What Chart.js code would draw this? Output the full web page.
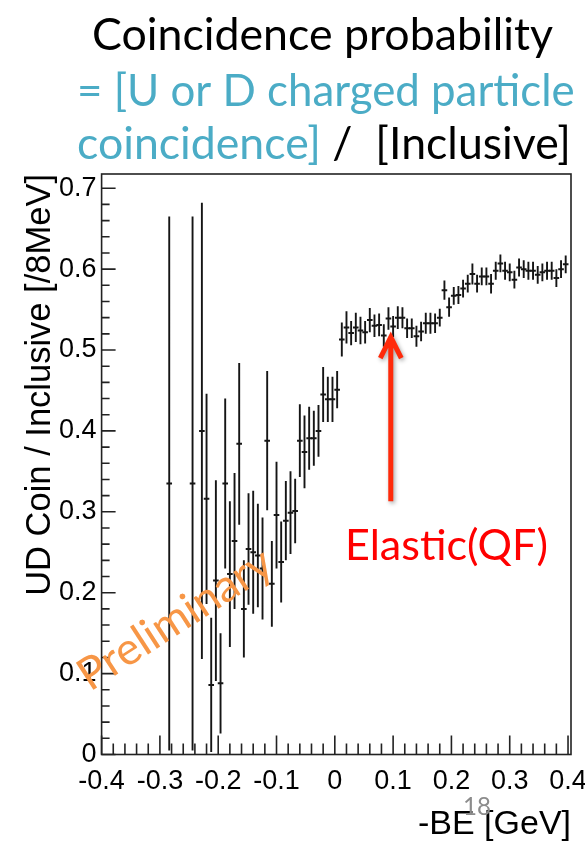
<!DOCTYPE html>
<html>
<head>
<meta charset="utf-8">
<script src="https://cdn.jsdelivr.net/npm/chart.js@4.4.1/dist/chart.umd.min.js"></script>
<style>
  html, body { margin: 0; padding: 0; background: #fff; }
  #chart { display: block; }
</style>
</head>
<body>
<canvas id="chart" width="585" height="842"></canvas>
<script>
// -BE bin centres in GeV (8 MeV bins), only the filled bins
const beGeV = [
  -0.284, -0.244, -0.228, -0.220, -0.212, -0.204, -0.196, -0.188, -0.180, -0.172,
  -0.164, -0.156, -0.148, -0.140, -0.132, -0.124, -0.116, -0.108, -0.100, -0.092,
  -0.084, -0.076, -0.068, -0.060, -0.052, -0.044, -0.036, -0.028, -0.020, -0.012,
  -0.004, 0.004, 0.012, 0.020, 0.028, 0.036, 0.044, 0.052, 0.060, 0.068,
  0.076, 0.084, 0.092, 0.100, 0.108, 0.116, 0.124, 0.132, 0.140, 0.148,
  0.156, 0.164, 0.172, 0.180, 0.188, 0.196, 0.204, 0.212, 0.220, 0.228,
  0.236, 0.244, 0.252, 0.260, 0.268, 0.276, 0.284, 0.292, 0.300, 0.308,
  0.316, 0.324, 0.332, 0.340, 0.348, 0.356, 0.364, 0.372, 0.380, 0.388,
  0.396
];
// UD coincidence / inclusive ratio per bin
const ratio = [
  0.335, 0.335, 0.400, 0.316, 0.086, 0.215, 0.088, 0.335, 0.223, 0.264,
  0.384, 0.180, 0.254, 0.250, 0.246, 0.230, 0.388, 0.211, 0.296, 0.238,
  0.289, 0.299, 0.301, 0.388, 0.374, 0.391, 0.391, 0.400, 0.445, 0.439,
  0.439, 0.451, 0.513, 0.528, 0.521, 0.528, 0.524, 0.522, 0.537, 0.530,
  0.531, 0.518, 0.539, 0.529, 0.540, 0.540, 0.527, 0.527, 0.517, 0.523,
  0.533, 0.533, 0.533, 0.540, 0.574, 0.553, 0.567, 0.568, 0.576, 0.582,
  0.594, 0.582, 0.591, 0.591, 0.582, 0.598, 0.607, 0.598, 0.596, 0.587,
  0.602, 0.600, 0.598, 0.598, 0.593, 0.596, 0.598, 0.598, 0.589, 0.600,
  0.606
];
// statistical error per bin
const ratioErr = [
  0.330, 0.330, 0.282, 0.130, 0.083, 0.124, 0.062, 0.105, 0.090, 0.084,
  0.100, 0.060, 0.069, 0.076, 0.064, 0.063, 0.086, 0.053, 0.066, 0.050,
  0.049, 0.051, 0.040, 0.045, 0.045, 0.039, 0.034, 0.032, 0.034, 0.028,
  0.028, 0.023, 0.021, 0.020, 0.015, 0.018, 0.017, 0.014, 0.015, 0.014,
  0.014, 0.014, 0.014, 0.013, 0.014, 0.013, 0.012, 0.012, 0.013, 0.012,
  0.013, 0.013, 0.012, 0.011, 0.012, 0.012, 0.011, 0.011, 0.011, 0.011,
  0.013, 0.011, 0.011, 0.011, 0.012, 0.011, 0.011, 0.011, 0.011, 0.011,
  0.011, 0.011, 0.011, 0.011, 0.011, 0.011, 0.011, 0.011, 0.011, 0.011,
  0.011
];
const xTicks = [-0.4, -0.3, -0.2, -0.1, 0, 0.1, 0.2, 0.3, 0.4];
const yTicks = [0, 0.1, 0.2, 0.3, 0.4, 0.5, 0.6, 0.7];

const fmt = v => (Math.abs(v) < 1e-9 ? '0' : v.toFixed(1));

// shrink/grow a font so the text spans the given width
function fitSize(ctx, text, family, width) {
  ctx.font = '100px ' + family;
  return 100 * width / ctx.measureText(text).width;
}

// ROOT-style frame, inward ticks and vertical error bars
const histoFrame = {
  id: 'histoFrame',
  beforeDatasetsDraw(chart) {
    const { ctx, chartArea: a, scales: { x, y } } = chart;
    ctx.save();
    ctx.strokeStyle = '#222';
    ctx.lineWidth = 1.6;
    ctx.strokeRect(a.left, a.top, a.right - a.left, a.bottom - a.top);

    ctx.beginPath();
    for (let k = 0; k <= 40; k++) {
      const px = x.getPixelForValue(-0.4 + k * 0.02);
      ctx.moveTo(px, a.bottom);
      ctx.lineTo(px, a.bottom - (k % 5 === 0 ? 19 : 11));
    }
    for (let k = 0; k <= 35; k++) {
      const py = y.getPixelForValue(k * 0.02);
      ctx.moveTo(a.left, py);
      ctx.lineTo(a.left + (k % 5 === 0 ? 14 : 8), py);
    }
    ctx.stroke();

    ctx.strokeStyle = '#151515';
    ctx.lineWidth = 1.9;
    ctx.beginPath();
    beGeV.forEach((b, i) => {
      const px = x.getPixelForValue(b);
      ctx.moveTo(px, y.getPixelForValue(ratio[i] + ratioErr[i]));
      ctx.lineTo(px, y.getPixelForValue(Math.max(0, ratio[i] - ratioErr[i])));
    });
    ctx.stroke();
    ctx.restore();
  },
  afterDraw(chart) {
    const { ctx, scales: { x, y } } = chart;
    const sans = 'Lato, "Open Sans", sans-serif';
    const teal = '#4BACC6';
    ctx.save();
    ctx.textBaseline = 'alphabetic';

    // heading
    let s = fitSize(ctx, 'Coincidence probability', sans, 461);
    ctx.font = s + 'px ' + sans;
    ctx.fillStyle = '#000';
    ctx.textAlign = 'center';
    ctx.fillText('Coincidence probability', 322.5, 50);

    ctx.textAlign = 'left';
    s = fitSize(ctx, '= [U or D charged particle', sans, 498);
    ctx.font = s + 'px ' + sans;
    ctx.fillStyle = teal;
    ctx.fillText('= [U or D charged particle', 77, 106);

    const parts = [['coincidence]', teal], [' /  ', '#000'], ['[Inclusive]', '#000']];
    s = fitSize(ctx, parts.map(p => p[0]).join(''), sans, 494);
    ctx.font = s + 'px ' + sans;
    let cx = 77;
    parts.forEach(([t, c]) => {
      ctx.fillStyle = c;
      ctx.fillText(t, cx, 159);
      cx += ctx.measureText(t).width;
    });

    // arrow pointing at the quasi-free peak
    const ax = x.getPixelForValue(0.096);
    const yTip = y.getPixelForValue(0.516);
    const yTail = y.getPixelForValue(0.313);
    ctx.save();
    ctx.shadowColor = 'rgba(0,0,0,0.35)';
    ctx.shadowBlur = 4;
    ctx.shadowOffsetX = 1.5;
    ctx.shadowOffsetY = 2;
    ctx.strokeStyle = '#FF2A0A';
    ctx.lineWidth = 5;
    ctx.lineJoin = 'miter';
    ctx.beginPath();
    ctx.moveTo(ax, yTail);
    ctx.lineTo(ax, yTip + 2);
    ctx.moveTo(ax - 10.5, yTip + 21);
    ctx.lineTo(ax, yTip);
    ctx.lineTo(ax + 10.5, yTip + 21);
    ctx.stroke();
    ctx.restore();

    s = fitSize(ctx, 'Elastic(QF)', sans, 203);
    ctx.font = s + 'px ' + sans;
    ctx.fillStyle = '#FF0000';
    ctx.fillText('Elastic(QF)', 345, 560);

    s = fitSize(ctx, '18', sans, 28);
    ctx.font = s + 'px ' + sans;
    ctx.fillStyle = '#8c8c8c';
    ctx.fillText('18', 463, 815);

    // watermark
    ctx.save();
    ctx.translate(90, 692);
    ctx.rotate(-33 * Math.PI / 180);
    s = fitSize(ctx, 'Preliminary', sans, 222);
    ctx.font = s + 'px ' + sans;
    ctx.fillStyle = '#F79646';
    ctx.fillText('Preliminary', 0, 0);
    ctx.restore();

    ctx.restore();
  }
};

const ctx = document.getElementById('chart').getContext('2d');
const axisFamily = '"Liberation Sans", Arial, sans-serif';
const tickFont = { family: axisFamily, size: 27 };

new Chart(ctx, {
  type: 'scatter',
  data: {
    datasets: [{
      label: 'UD Coin / Inclusive',
      data: beGeV.map((b, i) => ({ x: b, y: ratio[i] })),
      showLine: false,
      pointStyle: 'line',
      pointRadius: 2.8,
      pointHoverRadius: 2.8,
      pointBorderWidth: 2,
      borderColor: '#151515',
      backgroundColor: '#151515'
    }]
  },
  options: {
    responsive: false,
    animation: false,
    devicePixelRatio: 1,
    layout: { padding: { left: 0, top: 174, right: 14, bottom: 0 } },
    plugins: { legend: { display: false }, tooltip: { enabled: false } },
    scales: {
      x: {
        type: 'linear',
        min: -0.4,
        max: 0.4051,
        afterBuildTicks: s => { s.ticks = xTicks.map(v => ({ value: v })); },
        afterFit: s => { s.height = 87.5; s.paddingLeft = 0; s.paddingRight = 0; },
        grid: { display: false, drawTicks: false },
        border: { display: false },
        ticks: {
          callback: v => fmt(v),
          font: tickFont,
          color: '#000',
          padding: 11,
          autoSkip: false,
          maxRotation: 0
        },
        title: {
          display: true,
          text: '-BE [GeV]',
          align: 'end',
          color: '#000',
          font: { family: axisFamily, size: 34, lineHeight: 1 },
          padding: 0
        }
      },
      y: {
        type: 'linear',
        min: 0,
        max: 0.7176,
        afterBuildTicks: s => { s.ticks = yTicks.map(v => ({ value: v })); },
        afterFit: s => { s.width = 101.6; s.paddingTop = 0; s.paddingBottom = 0; },
        grid: { display: false, drawTicks: false },
        border: { display: false },
        ticks: {
          callback: v => fmt(v),
          font: tickFont,
          color: '#000',
          padding: 5,
          autoSkip: false
        },
        title: {
          display: true,
          text: 'UD Coin / Inclusive [/8MeV]',
          align: 'end',
          color: '#000',
          font: { family: axisFamily, size: 34.5, lineHeight: 1.2 },
          padding: { top: 20, bottom: 0 }
        }
      }
    }
  },
  plugins: [histoFrame]
});
</script>
</body>
</html>
